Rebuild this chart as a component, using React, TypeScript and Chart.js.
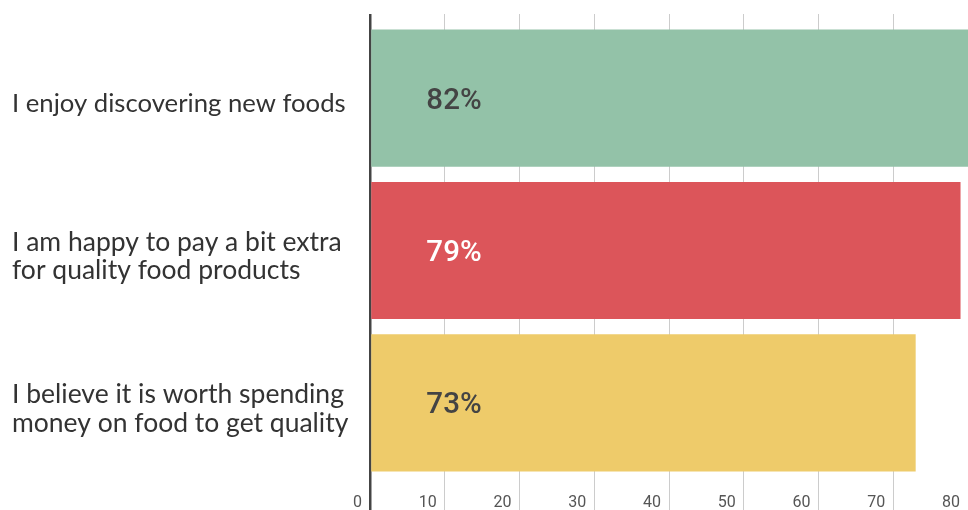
import React, { useEffect, useRef } from "react";
import { Chart, registerables } from "chart.js";

Chart.register(...registerables);

const categories: string[][] = [
  ["I enjoy discovering new foods"],
  ["I am happy to pay a bit extra", "for quality food products"],
  ["I believe it is worth spending", "money on food to get quality"],
];
const values: number[] = [82, 79, 73];
const barColors: string[] = ["#93C2A8", "#DC555A", "#EECB6A"];
const labelColors: string[] = ["#444444", "#FFFFFF", "#444444"];
const xTickStep = 10;
const xMin = 0;
const xMax = 80;

const gridColor = (ctx: any) => (ctx.index === 0 ? "#444444" : "#cccccc");
const gridWidth = (ctx: any) => (ctx.index === 0 ? 2.5 : 1);

const valueLabels = {
  id: "valueLabels",
  afterDatasetsDraw(chart: any) {
    const { ctx, chartArea } = chart;
    const meta = chart.getDatasetMeta(0);
    ctx.save();
    ctx.font = "500 29.5px Roboto";
    ctx.textAlign = "center";
    ctx.textBaseline = "alphabetic";
    meta.data.forEach((bar: any, i: number) => {
      ctx.fillStyle = labelColors[i];
      ctx.fillText(`${values[i]}%`, chartArea.left + 84, bar.y + 29.5 * 0.355);
    });
    ctx.restore();
  },
};

export default function App() {
  const ref = useRef<HTMLCanvasElement | null>(null);
  useEffect(() => {
    if (!ref.current) return;
    const chart = new Chart(ref.current, {
      type: "bar",
      data: {
        labels: categories,
        datasets: [
          {
            data: values,
            backgroundColor: barColors,
            borderWidth: 0,
            barPercentage: 0.9,
            categoryPercentage: 1,
          },
        ],
      },
      options: {
        indexAxis: "y",
        animation: false,
        responsive: true,
        maintainAspectRatio: false,
        layout: { padding: { top: 14, left: 12, right: 0, bottom: 0 } },
        plugins: { legend: { display: false }, tooltip: { enabled: false } },
        scales: {
          x: {
            position: "bottom",
            min: xMin,
            max: xMax,
            ticks: {
              stepSize: xTickStep,
              align: "end",
              labelOffset: -8,
              padding: -17,
              color: "#555555",
              font: { family: "Roboto", size: 16 },
              maxRotation: 0,
            },
            grid: {
              color: gridColor,
              lineWidth: gridWidth,
              drawTicks: true,
              tickLength: 31,
            },
            border: { display: false },
            afterFit: (scale: any) => {
              scale.height = 31;
              scale.paddingLeft = 0;
              scale.paddingRight = 0;
            },
          },
          x2: {
            position: "top",
            axis: "x",
            min: xMin,
            max: xMax,
            ticks: { display: false, stepSize: xTickStep },
            grid: {
              color: gridColor,
              lineWidth: gridWidth,
              drawOnChartArea: false,
              drawTicks: true,
              tickLength: 8,
            },
            border: { display: false },
            afterFit: (scale: any) => {
              scale.height = 8;
              scale.paddingLeft = 0;
              scale.paddingRight = 0;
            },
          },
          y: {
            grid: { display: false },
            border: { display: false },
            ticks: {
              crossAlign: "far",
              labelOffset: 6,
              color: "#333333",
              font: (ctx: any) =>
                ctx.index === 0
                  ? { family: "Lato", size: 25.7, lineHeight: 1.1 }
                  : { family: "Lato", size: 26.5, lineHeight: 1.08 },
            },
            afterFit: (scale: any) => {
              scale.width = 358;
              scale.paddingTop = 0;
              scale.paddingBottom = 0;
            },
          },
        },
      },
      plugins: [valueLabels],
    } as any);
    return () => chart.destroy();
  }, []);
  return (
    <div style={{ position: "fixed", left: 0, top: 0, width: 968, height: 510, background: "#fff" }}>
      <canvas ref={ref} />
    </div>
  );
}
